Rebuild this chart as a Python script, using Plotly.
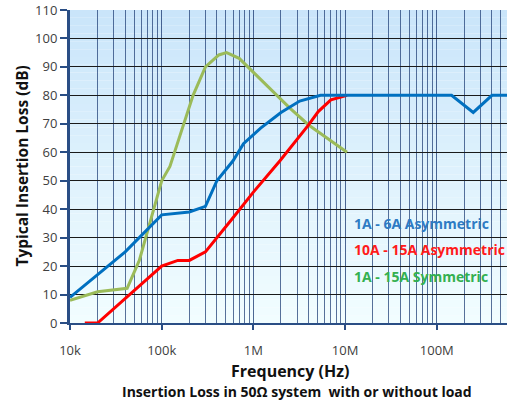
import plotly.graph_objects as go

# ---- data (frequency in Hz, insertion loss in dB) ----
blue_freq = [1e4, 4e4, 1e5, 2e5, 3e5, 4e5, 6e5, 7.8e5, 1.2e6, 2e6, 3.2e6, 5.4e6, 1.45e8, 2.5e8, 4e8, 6e8]
blue_db   = [9, 25, 38, 39, 41, 50, 57, 63, 68.5, 74, 78, 80, 80, 74, 80, 80]

red_freq = [1.45e4, 2e4, 1e5, 1.5e5, 2e5, 3e5, 6e5, 1e6, 1.95e6, 4e6, 5.1e6, 7e6, 1.05e7]
red_db   = [0, 0, 20, 22, 22, 25, 37, 46, 57, 69.6, 74.3, 78.4, 80]

green_freq = [1e4, 2e4, 4.2e4, 5.7e4, 1e5, 1.23e5, 2.2e5, 3e5, 4.2e5, 5.1e5, 7e5, 9e5, 2.5e6, 4e6, 1.05e7]
green_db   = [8, 11, 12.2, 22, 50, 55, 80, 90, 94.2, 95, 93, 89.6, 75.5, 69.6, 60]

series_names = ["1A - 6A Asymmetric", "10A - 15A Asymmetric", "1A - 15A Symmetric"]
decade_vals = [1e4, 1e5, 1e6, 1e7, 1e8]
decade_text = ["10k", "100k", "1M", "10M", "100M"]
minor_vals = [k * 10**d for d in range(4, 9) for k in range(2, 10) if k * 10**d < 6e8]
y_ticks = list(range(0, 111, 10))

FONT = "'Open Sans', Lato, sans-serif"

fig = go.Figure()
fig.add_trace(go.Scatter(x=green_freq, y=green_db, mode="lines", line=dict(color="#9bbb59", width=3), name=series_names[2]))
fig.add_trace(go.Scatter(x=red_freq, y=red_db, mode="lines", line=dict(color="#ff0000", width=3), name=series_names[1]))
fig.add_trace(go.Scatter(x=blue_freq, y=blue_db, mode="lines", line=dict(color="#0070c0", width=3), name=series_names[0]))

# background gradient bands (light blue at top, near white at bottom)
n = 40
top = (201, 229, 250)
bot = (242, 253, 255)
for i in range(n):
    t = (i + 0.5) / n
    c = tuple(int(round(bot[j] + (top[j] - bot[j]) * t)) for j in range(3))
    fig.add_shape(type="rect", xref="paper", yref="paper", x0=0, x1=1,
                  y0=i / n, y1=(i + 1) / n, layer="below", line=dict(width=0),
                  fillcolor="rgb(%d,%d,%d)" % c)

fig.update_layout(
    width=507, height=401,
    margin=dict(l=70, r=0, t=10, b=78),
    paper_bgcolor="white", plot_bgcolor="rgba(0,0,0,0)",
    showlegend=False,
    font=dict(family=FONT, size=13, color="#404040"),
)
fig.update_xaxes(
    type="log", range=[4, 8.766],
    tickvals=decade_vals, ticktext=decade_text,
    ticks="outside", ticklen=5, tickwidth=2, tickcolor="#2a4e85",
    ticklabelstandoff=9,
    tickfont=dict(family=FONT, size=13, color="#404040"),
    showgrid=True, gridcolor="rgba(35,65,120,0.8)", gridwidth=1.2,
    minor=dict(tickvals=minor_vals, showgrid=True, gridcolor="rgba(35,65,120,0.75)", gridwidth=1.2, ticks=""),
    showline=True, linecolor="#2a4e85", linewidth=2, zeroline=False,
)
fig.update_yaxes(
    range=[0, 110], tickvals=y_ticks,
    ticks="outside", ticklen=7, tickwidth=2, tickcolor="#2a4e85",
    ticklabelstandoff=0,
    tickfont=dict(family=FONT, size=13, color="#404040"),
    showgrid=True, gridcolor="#1a1a1a", gridwidth=1,
    showline=True, linecolor="#2a4e85", linewidth=3, zeroline=False,
)

# legend texts
legend_colors = ["#2e7bc4", "#ff1a1a", "#33b050"]
legend_y = [34.8, 25.7, 16.2]
for name, col, yy in zip(series_names, legend_colors, legend_y):
    fig.add_annotation(x=0.645, xref="paper", y=yy, yref="y", text="<b>%s</b>" % name,
                       showarrow=False, xanchor="left", yanchor="middle",
                       font=dict(family=FONT, size=14, color=col))

fig.add_annotation(x=0.503, y=-0.153, xref="paper", yref="paper", text="<b>Frequency (Hz)</b>",
                   showarrow=False, xanchor="center", yanchor="middle",
                   font=dict(family=FONT, size=16, color="#111111"))
fig.add_annotation(x=0.519, y=-0.220, xref="paper", yref="paper",
                   text="<b>Insertion Loss in 50Ω system  with or without load</b>",
                   showarrow=False, xanchor="center", yanchor="middle",
                   font=dict(family=FONT, size=14, color="#111111"))
fig.add_annotation(x=-0.112, y=0.50, xref="paper", yref="paper",
                   text="<b>Typical Insertion Loss (dB)</b>", textangle=-90,
                   showarrow=False, xanchor="center", yanchor="middle",
                   font=dict(family=FONT, size=15.5, color="#111111"))

fig.write_html("out.html", config={"displayModeBar": False},
               post_script="document.body.style.margin='0px';document.body.style.overflow='hidden';")
